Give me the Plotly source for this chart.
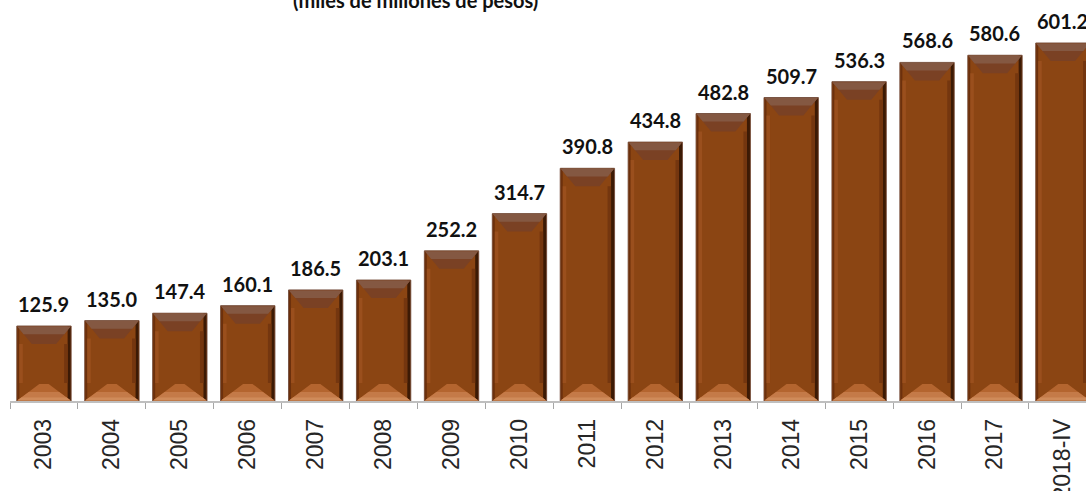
import plotly.graph_objects as go

categories = ["2003", "2004", "2005", "2006", "2007", "2008", "2009", "2010",
              "2011", "2012", "2013", "2014", "2015", "2016", "2017", "2018-IV"]
values = [125.9, 135.0, 147.4, 160.1, 186.5, 203.1, 252.2, 314.7,
          390.8, 434.8, 482.8, 509.7, 536.3, 568.6, 580.6, 601.2]
subtitle = "(miles de millones de pesos)"

W, H = 1086, 491
ML, MR, MT, MB = 10, 0, 8, 90
YMAX = 660
XMIN, XMAX = -0.5, 15.34
px_x = (W - ML - MR) / (XMAX - XMIN)
px_y = (H - MT - MB) / YMAX

idx = list(range(len(categories)))
BW = 0.8
hw = BW / 2

fig = go.Figure()
fig.add_trace(go.Bar(x=idx, y=values, width=BW,
                     marker=dict(color="#8B4513", line=dict(color="#7a5544", width=1)),
                     hoverinfo="skip", showlegend=False))


def poly_trace(fn, color):
    xs, ys = [], []
    for i, v in zip(idx, values):
        px, py = fn(i, v)
        xs += px + [px[0], None]
        ys += py + [py[0], None]
    return go.Scatter(x=xs, y=ys, mode="lines", fill="toself", fillcolor=color,
                      line=dict(width=0, color=color), hoverinfo="skip", showlegend=False)


dx = 15 / px_x
dy = 18 / px_y
sx = 1 / px_x
e = 0.5 / px_x
ey = 0.5 / px_y

# side shading
fig.add_trace(poly_trace(lambda i, v: ([i - hw + e, i - hw + 2.5 * sx, i - hw + 2.5 * sx, i - hw + e],
                                       [ey, ey, v - ey, v - ey]), "#6c300c"))
fig.add_trace(poly_trace(lambda i, v: ([i - hw + 2.5 * sx, i - hw + 6 * sx, i - hw + 6 * sx, i - hw + 2.5 * sx],
                                       [dy, dy, v - dy, v - dy]), "#9a4f1d"))
fig.add_trace(poly_trace(lambda i, v: ([i + hw - 3.5 * sx, i + hw - e, i + hw - e, i + hw - 3.5 * sx],
                                       [ey, ey, v - ey, v - ey]), "#3c1a05"))
fig.add_trace(poly_trace(lambda i, v: ([i + hw - 7 * sx, i + hw - 3.5 * sx, i + hw - 3.5 * sx, i + hw - 7 * sx],
                                       [dy, dy, v - dy, v - dy]), "#74360f"))
# top bevel
fig.add_trace(poly_trace(lambda i, v: ([i - hw + e, i + hw - e, i + hw - dx, i - hw + dx],
                                       [v - ey, v - ey, v - dy, v - dy]), "#7a4124"))
fig.add_trace(poly_trace(lambda i, v: ([i - hw + e, i + hw - e, i + hw - dx * 0.45, i - hw + dx * 0.45],
                                       [v - ey, v - ey, v - dy * 0.45, v - dy * 0.45]), "#845842"))
# bottom bevel
fig.add_trace(poly_trace(lambda i, v: ([i - hw + e, i + hw - e, i + hw - dx * 1.5, i - hw + dx * 1.5],
                                       [ey, ey, dy * 0.95, dy * 0.95]), "#b4652f"))
fig.add_trace(poly_trace(lambda i, v: ([i - hw + e, i + hw - e, i + hw - dx * 0.8, i - hw + dx * 0.8],
                                       [ey, ey, dy * 0.5, dy * 0.5]), "#c47a48"))
fig.add_trace(poly_trace(lambda i, v: ([i - hw + e, i + hw - e, i + hw - dx * 0.3, i - hw + dx * 0.3],
                                       [ey, ey, dy * 0.2, dy * 0.2]), "#cf8b5a"))

for i, v in zip(idx, values):
    fig.add_annotation(x=i, y=v, text=f"<b>{v:.1f}</b>", showarrow=False,
                       yanchor="bottom", yshift=8,
                       font=dict(family="Lato, DejaVu Sans", size=20, color="#111111"))

fig.add_annotation(xref="paper", yref="paper", x=(415 - ML) / (W - ML - MR), y=1,
                   yshift=MT - 14, xanchor="center", yanchor="bottom", showarrow=False,
                   text=f"<b>{subtitle}</b>",
                   font=dict(family="Lato, DejaVu Sans", size=20, color="#111111"))

fig.update_layout(
    width=W, height=H,
    margin=dict(l=ML, r=MR, t=MT, b=MB, pad=0, autoexpand=False),
    paper_bgcolor="white", plot_bgcolor="white",
    showlegend=False, bargap=0.2,
    xaxis=dict(range=[XMIN, XMAX], tickmode="array", tickvals=idx, ticktext=categories,
               tickangle=-90, ticks="", showgrid=False, zeroline=False, automargin=False,
               showline=True, linecolor="#bfbfbf", linewidth=1.5,
               ticklabelstandoff=7,
               tickfont=dict(family="Liberation Sans, Arial", size=23, color="#262626"),
               minor=dict(tickmode="linear", tick0=-0.5, dtick=1, ticks="outside",
                          ticklen=6, tickcolor="#a6a6a6", tickwidth=1, showgrid=False)),
    yaxis=dict(range=[0, YMAX], visible=False, showgrid=False, zeroline=False, automargin=False),
)

fig.write_html("out.html", config={"displayModeBar": False},
               post_script="document.body.style.margin='0';document.body.style.overflow='hidden';")
